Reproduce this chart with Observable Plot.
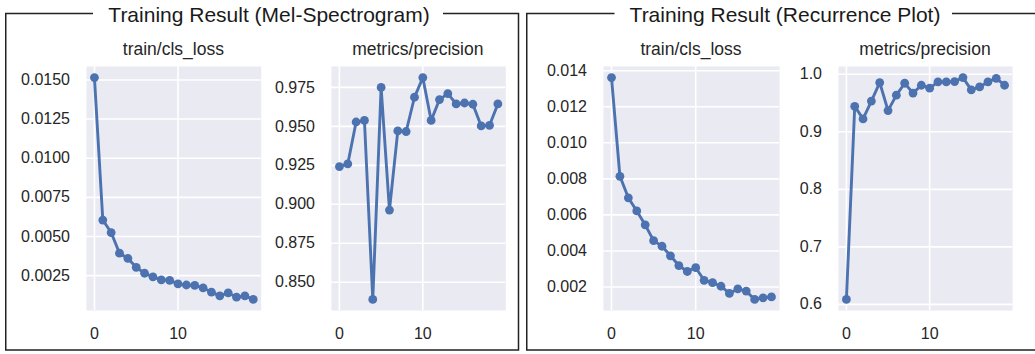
<!DOCTYPE html>
<html>
<head>
<meta charset="utf-8">
<script src="https://cdn.jsdelivr.net/npm/d3@7"></script>
<script src="https://cdn.jsdelivr.net/npm/@observablehq/plot@0.6"></script>
<style>
  html, body { margin: 0; padding: 0; background: white; }
  #root { position: relative; width: 1035px; height: 354px; overflow: hidden; font-family: "Liberation Sans", Arial, sans-serif; }
  #root svg { position: absolute; }
</style>
</head>
<body>
<div id="root"></div>
<script>
// ---- data ----
const epochs = [0,1,2,3,4,5,6,7,8,9,10,11,12,13,14,15,16,17,18,19];
const melLoss = [0.01515,0.00605,0.00525,0.00393,0.0036,0.00303,0.00265,0.00242,0.00223,0.0022,0.00197,0.0019,0.00187,0.00172,0.00144,0.00121,0.0014,0.00112,0.0012,0.00098];
const melPrec = [0.9242,0.9259,0.9528,0.9538,0.839,0.975,0.8963,0.9471,0.9467,0.9687,0.9813,0.9538,0.9672,0.971,0.9644,0.965,0.9642,0.9503,0.9507,0.9644];
const rpLoss = [0.01362,0.00814,0.00695,0.00622,0.00545,0.00457,0.00426,0.00373,0.00319,0.00286,0.00307,0.00237,0.00224,0.00204,0.00164,0.00189,0.00177,0.00131,0.0014,0.00145];
const rpPrec = [0.6086,0.9443,0.9225,0.9535,0.9857,0.9369,0.9638,0.9845,0.9673,0.981,0.9759,0.9868,0.9868,0.9874,0.9943,0.973,0.978,0.9868,0.993,0.981];

const xTicks = [0, 10];
const melLossTicks = [0.0025,0.005,0.0075,0.01,0.0125,0.015];
const melPrecTicks = [0.85,0.875,0.9,0.925,0.95,0.975];
const rpLossTicks = [0.002,0.004,0.006,0.008,0.01,0.012,0.014];
const rpPrecTicks = [0.6,0.7,0.8,0.9,1.0];

const groupTitles = ["Training Result (Mel-Spectrogram)", "Training Result (Recurrence Plot)"];
const panelTitles = ["train/cls_loss", "metrics/precision", "train/cls_loss", "metrics/precision"];

// ---- layout ----
const root = document.getElementById("root");
const NS = "http://www.w3.org/2000/svg";
const ink = "#262626";
const lineColor = "#4c72b0";

const frameTop = 65.7, frameBottom = 309.7;
const mL = 80, mR = 6, mT = 10, mB = 34;

function margin5(vals) {
  const lo = d3.min(vals), hi = d3.max(vals), r = hi - lo;
  return [lo - 0.05 * r, hi + 0.05 * r];
}

function panel(values, ticks, fmt, frameL, frameR) {
  const data = epochs.map((e, i) => ({epoch: e, value: values[i]}));
  const w = frameR - frameL;
  const xr = d3.extent(epochs);
  const xpad = 0.05 * (xr[1] - xr[0]);
  const p = Plot.plot({
    width: mL + w + mR,
    height: mT + (frameBottom - frameTop) + mB,
    marginLeft: mL, marginRight: mR, marginTop: mT, marginBottom: mB,
    style: {background: "transparent", color: ink, fontFamily: "Liberation Sans, Arial, sans-serif", fontSize: "16px", overflow: "visible"},
    x: {domain: [xr[0] - xpad, xr[1] + xpad], axis: null},
    y: {domain: margin5(values), axis: null},
    marks: [
      Plot.frame({fill: "#eaeaf2", stroke: "none"}),
      Plot.gridX(xTicks, {stroke: "white", strokeOpacity: 1, strokeWidth: 1.6}),
      Plot.gridY(ticks, {stroke: "white", strokeOpacity: 1, strokeWidth: 1.6}),
      Plot.axisX(xTicks, {tickSize: 0, tickPadding: 17, fontSize: 16, label: null, fill: ink}),
      Plot.axisY(ticks, {tickSize: 0, tickPadding: 16.5, fontSize: 16, label: null, fill: ink, tickFormat: d3.format(fmt)}),
      Plot.line(data, {x: "epoch", y: "value", stroke: lineColor, strokeWidth: 2.9}),
      Plot.dot(data, {x: "epoch", y: "value", r: 4.4, fill: lineColor})
    ]
  });
  p.style.left = (frameL - mL) + "px";
  p.style.top = (frameTop - mT) + "px";
  root.appendChild(p);
}

// overlay: boxes and titles
const ov = document.createElementNS(NS, "svg");
ov.setAttribute("width", 1035); ov.setAttribute("height", 354);
ov.style.left = "0px"; ov.style.top = "0px";
function path(d) {
  const e = document.createElementNS(NS, "path");
  e.setAttribute("d", d); e.setAttribute("fill", "none");
  e.setAttribute("stroke", "#222"); e.setAttribute("stroke-width", 1.5);
  ov.appendChild(e);
}
function text(str, x, y, size, color) {
  const t = document.createElementNS(NS, "text");
  t.setAttribute("x", x); t.setAttribute("y", y);
  t.setAttribute("text-anchor", "middle");
  t.setAttribute("font-size", size);
  t.setAttribute("font-family", "Liberation Sans, Arial, sans-serif");
  t.setAttribute("fill", color);
  t.textContent = str;
  ov.appendChild(t);
}
path("M93,13.5 H5.75 V350 H518.5 V13.5 H443");
path("M614.5,13.5 H526.75 V350 H1040 M952,13.5 H1040");
text(groupTitles[0], 269, 21.5, 21, "#1a1a1a");
text(groupTitles[1], 785, 21.5, 21, "#1a1a1a");
const frames = [[86, 260.7], [330.7, 505], [603, 779], [838, 1012]];
frames.forEach((f, i) => text(panelTitles[i], (f[0] + f[1]) / 2, 54.5, 17.5, ink));
root.appendChild(ov);

panel(melLoss, melLossTicks, ".4f", 86, 260.7);
panel(melPrec, melPrecTicks, ".3f", 330.7, 505);
panel(rpLoss, rpLossTicks, ".3f", 603, 779);
panel(rpPrec, rpPrecTicks, ".1f", 838, 1012);
</script>
</body>
</html>
